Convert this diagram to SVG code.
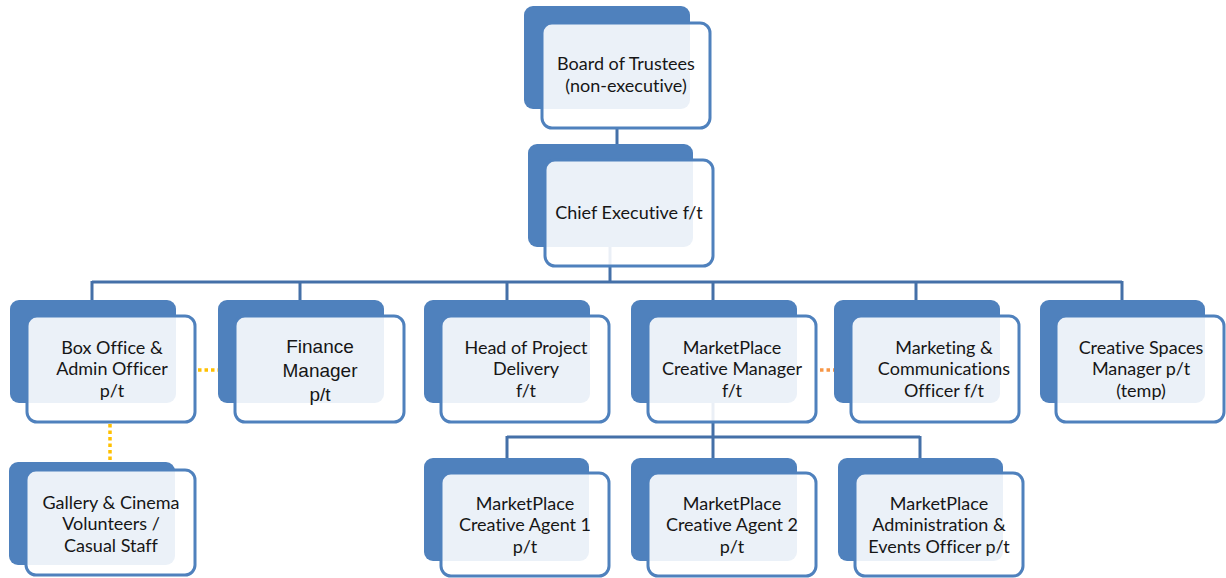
<svg xmlns="http://www.w3.org/2000/svg" width="1226" height="578" viewBox="0 0 1226 578">
<style>
.back{fill:#4f81bd}
.front{fill:#ffffff;fill-opacity:0.89;stroke:#4f81bd;stroke-width:3}
.t{font-family:Lato,"Liberation Sans",sans-serif;font-size:18px;fill:#161616;text-anchor:middle;font-variant-ligatures:none}
.ta{font-family:"Liberation Sans",Arial,sans-serif;font-size:19px;fill:#161616;text-anchor:middle}
.c{fill:none;stroke:#4470a8;stroke-width:3}
.dy{fill:none;stroke:#ffc000;stroke-width:3.5;stroke-dasharray:3.5 3}
.do{fill:none;stroke:#f79646;stroke-width:3.5;stroke-dasharray:3.5 3}
</style>
<rect width="1226" height="578" fill="#ffffff"/>
<g id="connectors">
<path class="c" d="M617,129 V160"/>
<path class="c" d="M610,247 V282"/>
<path class="c" d="M92,282 H1122 M92,281 V300 M300,281 V300 M507,281 V300 M713,281 V300 M916,281 V300 M1122,281 V300"/>
<path class="c" d="M713,403 V437 M507,437 H920 M507,436 V458 M713,436 V458 M920,436 V458"/>
<path class="dy" d="M110,424 V462"/>
<path class="dy" d="M198,370 H233"/>
<path class="do" d="M820,370 H850"/>
</g>
<g id="board">
<rect class="back" x="524" y="6" width="166" height="103" rx="9"/>
<rect class="front" x="542" y="23" width="168" height="105" rx="10"/>
<text class="t" x="626" y="70">Board of Trustees</text>
<text class="t" x="626" y="92">(non-executive)</text>
</g>
<g id="chief">
<rect class="back" x="528" y="144" width="165" height="103" rx="9"/>
<rect class="front" x="545" y="160" width="168" height="106" rx="10"/>
<text class="t" x="629" y="219">Chief Executive f/t</text>
</g>
<g id="boxoffice">
<rect class="back" x="10" y="300" width="166" height="103" rx="9"/>
<rect class="front" x="27" y="316" width="168" height="106" rx="10"/>
<text class="t" x="112" y="354">Box Office &amp;</text>
<text class="t" x="112" y="375">Admin Officer</text>
<text class="t" x="112" y="397">p/t</text>
</g>
<g id="finance">
<rect class="back" x="218" y="300" width="166" height="103" rx="9"/>
<rect class="front" x="235" y="316" width="169" height="106" rx="10"/>
<text class="ta" x="320" y="353">Finance</text>
<text class="ta" x="320" y="377">Manager</text>
<text class="ta" x="320" y="401">p/t</text>
</g>
<g id="headproject">
<rect class="back" x="424" y="300" width="166" height="103" rx="9"/>
<rect class="front" x="441" y="316" width="168" height="106" rx="10"/>
<text class="t" x="526" y="354">Head of Project</text>
<text class="t" x="526" y="375">Delivery</text>
<text class="t" x="526" y="397">f/t</text>
</g>
<g id="mpmanager">
<rect class="back" x="631" y="300" width="166" height="103" rx="9"/>
<rect class="front" x="648" y="316" width="168" height="106" rx="10"/>
<text class="t" x="732" y="354">MarketPlace</text>
<text class="t" x="732" y="375">Creative Manager</text>
<text class="t" x="732" y="397">f/t</text>
</g>
<g id="marketing">
<rect class="back" x="834" y="300" width="166" height="103" rx="9"/>
<rect class="front" x="851" y="316" width="168" height="106" rx="10"/>
<text class="t" x="944" y="354">Marketing &amp;</text>
<text class="t" x="944" y="375">Communications</text>
<text class="t" x="944" y="397">Officer f/t</text>
</g>
<g id="creativespaces">
<rect class="back" x="1040" y="300" width="165" height="103" rx="9"/>
<rect class="front" x="1056" y="316" width="168" height="106" rx="10"/>
<text class="t" x="1141" y="354">Creative Spaces</text>
<text class="t" x="1141" y="375">Manager p/t</text>
<text class="t" x="1141" y="397">(temp)</text>
</g>
<g id="gallery">
<rect class="back" x="9" y="462" width="166" height="103" rx="9"/>
<rect class="front" x="26" y="470" width="169" height="105" rx="10"/>
<text class="t" x="111" y="509">Gallery &amp; Cinema</text>
<text class="t" x="111" y="530">Volunteers /</text>
<text class="t" x="111" y="552">Casual Staff</text>
</g>
<g id="agent1">
<rect class="back" x="424" y="458" width="165" height="103" rx="9"/>
<rect class="front" x="441" y="473" width="168" height="103" rx="10"/>
<text class="t" x="525" y="510">MarketPlace</text>
<text class="t" x="525" y="531">Creative Agent 1</text>
<text class="t" x="525" y="553">p/t</text>
</g>
<g id="agent2">
<rect class="back" x="631" y="458" width="166" height="103" rx="9"/>
<rect class="front" x="648" y="473" width="168" height="103" rx="10"/>
<text class="t" x="732" y="510">MarketPlace</text>
<text class="t" x="732" y="531">Creative Agent 2</text>
<text class="t" x="732" y="553">p/t</text>
</g>
<g id="adminevents">
<rect class="back" x="838" y="458" width="165" height="103" rx="9"/>
<rect class="front" x="855" y="473" width="168" height="103" rx="10"/>
<text class="t" x="939" y="510">MarketPlace</text>
<text class="t" x="939" y="531">Administration &amp;</text>
<text class="t" x="939" y="553">Events Officer p/t</text>
</g>
</svg>
